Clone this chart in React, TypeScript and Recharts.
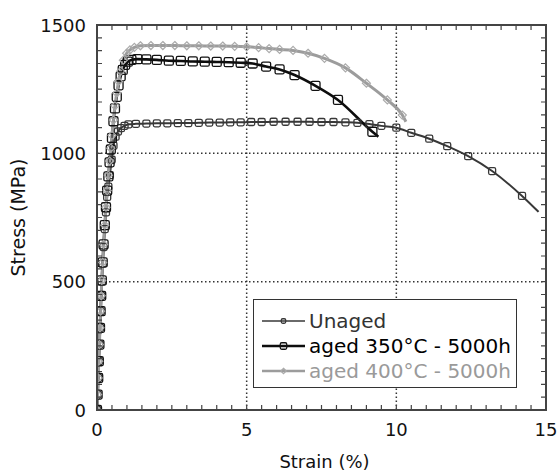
import { LineChart, Line, XAxis, YAxis, ReferenceLine, Legend } from "recharts"

const unagedStrain = [
  0, 0.02, 0.04, 0.06, 0.08, 0.1, 0.12, 0.14, 0.16, 0.19, 0.22, 0.26, 0.3, 0.34, 0.38, 0.43, 0.49, 0.55, 0.62,
  0.7, 0.8, 0.92, 1.05, 1.3, 1.65, 2.0, 2.35, 2.7, 3.05, 3.4, 3.75, 4.1, 4.45, 4.8, 5.15, 5.5, 5.9, 6.3, 6.7,
  7.1, 7.5, 7.9, 8.3, 8.7, 9.1, 9.5, 10.0, 10.5, 11.1, 11.7, 12.4, 13.2, 14.2, 14.75,
]
const unagedStress = [
  0, 60, 125, 190, 255, 320, 385, 445, 500, 570, 635, 705, 770, 830, 870, 915, 975, 1030, 1065, 1085, 1098,
  1107, 1113, 1115, 1116, 1117, 1117, 1118, 1118, 1119, 1120, 1120, 1121, 1121, 1122, 1122, 1123, 1123, 1123,
  1123, 1122, 1122, 1121, 1119, 1114, 1107, 1100, 1080, 1057, 1028, 989, 931, 834, 772,
]

const aged350Strain = [
  0, 0.02, 0.04, 0.06, 0.08, 0.1, 0.12, 0.14, 0.16, 0.19, 0.22, 0.26, 0.3, 0.34, 0.38, 0.42, 0.46, 0.5, 0.55,
  0.6, 0.66, 0.72, 0.79, 0.86, 0.94, 1.03, 1.15, 1.35, 1.65, 2.0, 2.4, 2.8, 3.2, 3.6, 4.0, 4.4, 4.8, 5.2, 5.65,
  6.1, 6.6, 7.3, 8.05, 9.2, 9.4,
]
const aged350Stress = [
  0, 60, 125, 190, 255, 320, 385, 445, 505, 575, 645, 720, 790, 855, 910, 965, 1015, 1060, 1125, 1175, 1220,
  1265, 1300, 1325, 1345, 1357, 1364, 1367, 1366, 1364, 1361, 1360, 1358, 1357, 1356, 1355, 1353, 1350, 1338,
  1327, 1305, 1263, 1208, 1084, 1065,
]

const aged400Strain = [
  0, 0.02, 0.04, 0.06, 0.08, 0.1, 0.12, 0.14, 0.16, 0.19, 0.22, 0.26, 0.3, 0.34, 0.38, 0.42, 0.46, 0.5, 0.55,
  0.6, 0.66, 0.72, 0.79, 0.88, 0.99, 1.1, 1.25, 1.45, 1.8, 2.2, 2.6, 3.0, 3.4, 3.8, 4.2, 4.6, 5.0, 5.4, 5.75,
  6.1, 6.55, 7.05, 7.6, 8.3, 9.0, 9.7, 10.2, 10.32,
]
const aged400Stress = [
  0, 60, 125, 190, 255, 320, 385, 445, 505, 575, 645, 720, 790, 855, 915, 970, 1020, 1070, 1130, 1185, 1235,
  1280, 1320, 1363, 1390, 1403, 1413, 1419, 1420, 1420, 1420, 1419, 1419, 1418, 1418, 1417, 1415, 1412, 1408,
  1405, 1401, 1390, 1370, 1333, 1273, 1208, 1149, 1123,
]

const xMajor = [0, 5, 10, 15]
const yMajor = [0, 500, 1000, 1500]
const xGrid = [5, 10]
const yGrid = [500, 1000]
const seriesNames = ["Unaged", "aged 350°C - 5000h", "aged 400°C - 5000h"]

// minor tick marks every 0.5 % and every 50 MPa
const xTicks = Array.from({ length: 31 }, (_, i) => i * 0.5)
const yTicks = Array.from({ length: 31 }, (_, i) => i * 50)

const toRows = (strain: number[], stress: number[]) => strain.map((s, i) => ({ strain: s, stress: stress[i] }))

const unaged = toRows(unagedStrain, unagedStress)
const aged350 = toRows(aged350Strain, aged350Stress)
const aged400 = toRows(aged400Strain, aged400Stress)

const FONT = "'DejaVu Sans', sans-serif"
const FRAME = "#444"
const TICK_LEN = 5

// plot box, follows from the chart margins and axis sizes below
const W = 559
const H = 476
const MARGIN = { top: 25, right: 13, bottom: 0, left: 37 }
const Y_AXIS_W = 60
const X_AXIS_H = 66
const PLOT_L = MARGIN.left + Y_AXIS_W
const PLOT_T = MARGIN.top
const PLOT_W = W - MARGIN.right - PLOT_L
const PLOT_H = H - MARGIN.bottom - X_AXIS_H - PLOT_T

const styles = [
  { color: "#383838", width: 2, text: "#333", marker: "square", size: 7, mstroke: "#383838" },
  { color: "#0d0d0d", width: 2.6, text: "#000", marker: "square", size: 9, mstroke: "#111" },
  { color: "#9c9c9c", width: 3, text: "#9a9a9a", marker: "diamond", size: 8, mstroke: "#aaa" },
]

function markerShape(kind: string, cx: number, cy: number, size: number, stroke: string, key?: any) {
  const h = size / 2
  if (kind === "diamond") {
    return (
      <polygon
        key={key}
        points={`${cx},${cy - h} ${cx + h},${cy} ${cx},${cy + h} ${cx - h},${cy}`}
        fill="none"
        stroke={stroke}
        strokeWidth={1.2}
      />
    )
  }
  return (
    <rect key={key} x={cx - h} y={cy - h} width={size} height={size} rx={1.5} fill="none" stroke={stroke} strokeWidth={1.3} />
  )
}

const makeDot = (idx: number, count: number) => (props: any) => {
  const { cx, cy, index } = props
  if (index === count - 1 || cx == null || cy == null) return <g key={`d-${idx}-${index}`} />
  const st = styles[idx]
  return markerShape(st.marker, cx, cy, st.size, st.mstroke, `d-${idx}-${index}`)
}

function BottomTick({ x, y, payload }: any) {
  const v = payload.value
  if (!xMajor.includes(v)) return <g />
  return (
    <text x={x} y={y + 26} textAnchor="middle" fontSize={18} fontFamily={FONT} fill="#111">
      {v}
    </text>
  )
}

function LeftTick({ x, y, payload }: any) {
  const v = payload.value
  if (!yMajor.includes(v)) return <g />
  return (
    <text x={x - 11} y={y + 6.5} textAnchor="end" fontSize={18} fontFamily={FONT} fill="#111">
      {v}
    </text>
  )
}

function YTitle(props: any) {
  const vb = props.viewBox || { x: MARGIN.left, y: PLOT_T, height: PLOT_H }
  const cx = vb.x - 12
  const cy = vb.y + vb.height / 2
  return (
    <text x={cx} y={cy} transform={`rotate(-90 ${cx} ${cy})`} textAnchor="middle" fontSize={19} fontFamily={FONT} fill="#111">
      Stress (MPa)
    </text>
  )
}

// closed frame with inward ticks on all four sides
function Frame() {
  const px = (v: number) => PLOT_L + (v / 15) * PLOT_W
  const py = (v: number) => PLOT_T + PLOT_H - (v / 1500) * PLOT_H
  const d: string[] = []
  xTicks.forEach((t) => {
    d.push(`M${px(t)},${PLOT_T + PLOT_H}v${-TICK_LEN}`)
    d.push(`M${px(t)},${PLOT_T}v${TICK_LEN}`)
  })
  yTicks.forEach((t) => {
    d.push(`M${PLOT_L},${py(t)}h${TICK_LEN}`)
    d.push(`M${PLOT_L + PLOT_W},${py(t)}h${-TICK_LEN}`)
  })
  return (
    <svg width={W} height={H} style={{ position: "absolute", left: 0, top: 0, pointerEvents: "none" }}>
      <path d={d.join("")} stroke={FRAME} strokeWidth={1.2} fill="none" />
      <rect x={PLOT_L} y={PLOT_T} width={PLOT_W} height={PLOT_H} fill="none" stroke={FRAME} strokeWidth={2} />
    </svg>
  )
}

function LegendBox() {
  return (
    <div
      style={{
        boxSizing: "border-box",
        width: 264,
        height: 89,
        border: `1.5px solid #333`,
        background: "#fff",
        padding: "9px 0 0 7px",
        fontFamily: FONT,
        fontSize: 20,
      }}
    >
      {seriesNames.map((name, i) => {
        const st = styles[i]
        return (
          <div key={name} style={{ display: "flex", alignItems: "center", height: 24.7, whiteSpace: "nowrap" }}>
            <svg width={45} height={24} style={{ flex: "none" }}>
              <line x1={1} y1={12} x2={44} y2={12} stroke={st.color} strokeWidth={st.width - 0.3} />
              {markerShape(st.marker, 22.5, 12, st.size - 2.5, st.mstroke)}
            </svg>
            <span style={{ color: st.text, marginLeft: 3, lineHeight: "24px" }}>{name}</span>
          </div>
        )
      })}
    </div>
  )
}

export default function App() {
  const axisLine = { stroke: FRAME, strokeWidth: 2 }
  return (
    <div style={{ position: "absolute", left: 0, top: 0, width: W, height: H, background: "#fff" }}>
      <LineChart width={W} height={H} margin={MARGIN}>
        <XAxis
          dataKey="strain"
          type="number"
          domain={[0, 15]}
          allowDataOverflow
          ticks={xTicks}
          interval={0}
          tickSize={0}
          tickMargin={0}
          tick={BottomTick}
          tickLine={false}
          axisLine={axisLine}
          height={X_AXIS_H}
          label={{ value: "Strain (%)", position: "insideBottom", offset: 8, dx: 3, fontSize: 18, fontFamily: FONT, fill: "#111" }}
        />
        <YAxis
          type="number"
          domain={[0, 1500]}
          allowDataOverflow
          ticks={yTicks}
          interval={0}
          tickSize={0}
          tickMargin={0}
          tick={LeftTick}
          tickLine={false}
          axisLine={axisLine}
          width={Y_AXIS_W}
          label={<YTitle />}
        />
        {xGrid.map((x) => (
          <ReferenceLine key={`gx${x}`} x={x} stroke="#333" strokeWidth={1.5} strokeDasharray="1.5 2.5" />
        ))}
        {yGrid.map((y) => (
          <ReferenceLine key={`gy${y}`} y={y} stroke="#333" strokeWidth={1.5} strokeDasharray="1.5 2.5" />
        ))}
        <Line
          data={unaged}
          dataKey="stress"
          name={seriesNames[0]}
          type="monotone"
          stroke={styles[0].color}
          strokeWidth={styles[0].width}
          dot={makeDot(0, unaged.length)}
          activeDot={false}
          isAnimationActive={false}
        />
        <Line
          data={aged350}
          dataKey="stress"
          name={seriesNames[1]}
          type="monotone"
          stroke={styles[1].color}
          strokeWidth={styles[1].width}
          dot={makeDot(1, aged350.length)}
          activeDot={false}
          isAnimationActive={false}
        />
        <Line
          data={aged400}
          dataKey="stress"
          name={seriesNames[2]}
          type="monotone"
          stroke={styles[2].color}
          strokeWidth={styles[2].width}
          dot={makeDot(2, aged400.length)}
          activeDot={false}
          isAnimationActive={false}
        />
        <Legend
          layout="vertical"
          align="center"
          verticalAlign="middle"
          wrapperStyle={{ left: 253, top: 299, width: 264, height: 89 }}
          content={() => <LegendBox />}
        />
      </LineChart>
      <Frame />
    </div>
  )
}
